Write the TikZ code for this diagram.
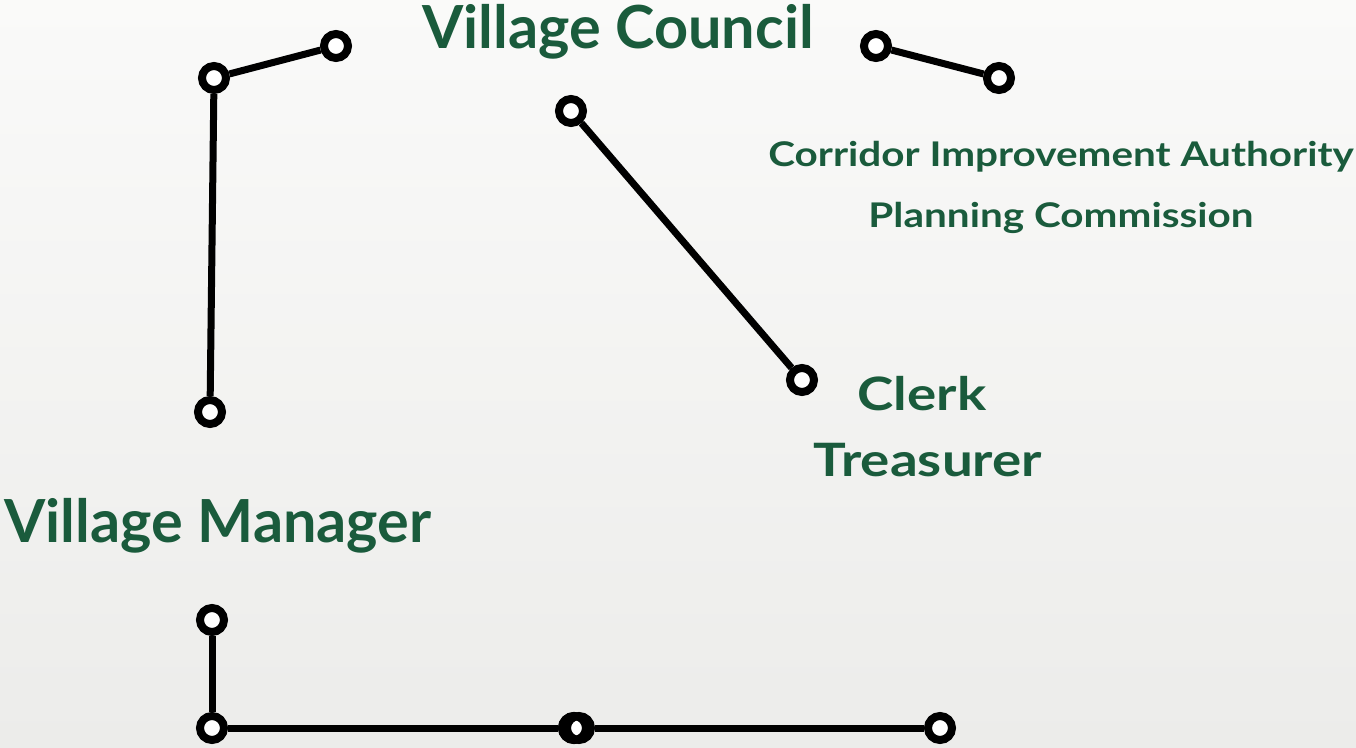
\documentclass[tikz,border=0pt]{standalone}
\usepackage{fontspec}
\setmainfont{Lato}
\definecolor{leaf}{HTML}{1A5B3C}
\definecolor{paperTop}{HTML}{FAFAF9}
\definecolor{paperBottom}{HTML}{ECECEA}
% wide lettering for the secondary labels
\newcommand{\widetext}[1]{\scalebox{1.19}[1]{#1}}

\begin{document}
\begin{tikzpicture}[x=1pt,y=-1pt,
  joint/.style={circle,draw=black,fill=white,line width=8pt,minimum size=24pt,inner sep=0pt},
  link/.style={line width=7pt,draw=black},
  label/.style={text=leaf,anchor=base,inner sep=0pt},
  big/.style={label,font=\bfseries\fontsize{59.4}{71}\selectfont},
  mid/.style={label,font=\bfseries\fontsize{46}{55}\selectfont},
  small/.style={label,font=\bfseries\fontsize{34}{41}\selectfont}]

% page background
\shade[top color=paperTop,bottom color=paperBottom] (0,0) rectangle (1356,747);
\useasboundingbox (0,0) rectangle (1356,747);

% titles
\node[big]   (council)  at (618,48)  {Village Council};
\node[big]   (manager)  at (218,542) {Village Manager};
\node[mid]   (clerk)    at (922,410) {\widetext{Clerk}};
\node[mid]   (treas)    at (928,476) {\widetext{Treasurer}};
\node[small] (corridor) at (1061,166) {\widetext{Corridor Improvement Authority}};
\node[small] (planning) at (1061,227) {\widetext{Planning Commission}};

% joints
\node[joint] (a)  at (214,78)  {};
\node[joint] (b)  at (336,46)  {};
\node[joint] (c)  at (210,412) {};
\node[joint] (d)  at (876,46)  {};
\node[joint] (e)  at (999,78)  {};
\node[joint] (f)  at (571,111) {};
\node[joint] (g)  at (802,380) {};
\node[joint] (h)  at (212,620) {};
\node[joint] (i)  at (212,728) {};
\node[joint] (j)  at (574,728) {};
\node[joint] (j2) at (579,728) {};
\node[joint] (k)  at (940,728) {};
% the overlapped ring of the double joint
\draw[line width=8pt] (j.center) circle[radius=12pt];

% connectors
\draw[link] (a) -- (b);
\draw[link] (a) -- (c);
\draw[link] (d) -- (e);
\draw[link] (f) -- (g);
\draw[link] (h) -- (i);
\draw[link] (i) -- (j);
\draw[link] (j2) -- (k);
\end{tikzpicture}
\end{document}
